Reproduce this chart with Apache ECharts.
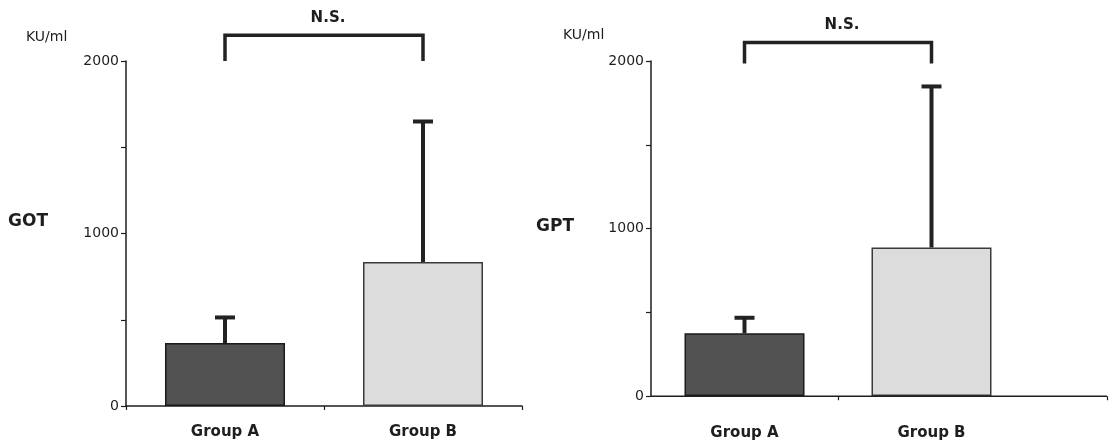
<!DOCTYPE html>
<html>
<head>
<meta charset="utf-8">
<script src="https://cdn.jsdelivr.net/npm/echarts@6/dist/echarts.min.js"></script>
<style>
html,body{margin:0;padding:0;background:#fff;}
#c{width:1112px;height:444px;}
</style>
</head>
<body>
<div id="c"></div>
<script>
// ---- data ----
const categories = ['Group A', 'Group B'];
const gotMean = [365, 835];
const gotSD = [157, 823];
const gptMean = [375, 887];
const gptSD = [101, 970];
const yTicks = [0, 1000, 2000];
const unitLabel = 'KU/ml';
const gotLabel = 'GOT';
const gptLabel = 'GPT';
const sigLabel = 'N.S.';
const gotBracket = [2000, 2150]; // [leg bottom, top]
const gptBracket = [1985, 2110];

const FONT = '"DejaVu Sans", sans-serif';
const INK = '#1e1e1e';

function yAxis(gridIndex) {
  return {
    type: 'value', gridIndex, min: 0, max: 2000, interval: 500,
    axisLine: { show: true, lineStyle: { color: INK, width: 1.5 } },
    axisTick: { show: true, length: 5, lineStyle: { color: INK, width: 1.2 } },
    splitLine: { show: false },
    axisLabel: {
      color: INK, fontFamily: FONT, fontSize: 14, margin: 7,
      formatter: v => (yTicks.indexOf(v) >= 0 ? String(v) : '')
    }
  };
}
function xAxis(gridIndex, margin, showLine) {
  return {
    type: 'category', gridIndex, data: categories,
    axisLine: { show: showLine, lineStyle: { color: INK, width: 1.5 } },
    axisTick: { show: showLine, length: 4, lineStyle: { color: INK, width: 1.2 } },
    axisLabel: { color: INK, fontFamily: FONT, fontSize: 15, fontWeight: 'bold', margin: margin }
  };
}
function barSeries(idx, data) {
  return {
    type: 'bar', xAxisIndex: idx, yAxisIndex: idx, data: data.map((v, i) => ({
      value: v,
      itemStyle: {
        color: i === 0 ? '#525252' : '#dcdcdc',
        borderColor: i === 0 ? '#1a1a1a' : '#3a3a3a',
        borderWidth: 1.5
      }
    })),
    barWidth: 120, z: 2
  };
}
function errSeries(idx, mean, sd) {
  return {
    type: 'custom', xAxisIndex: idx, yAxisIndex: idx, z: 3,
    data: mean.map((m, i) => [i, m, m + sd[i]]),
    renderItem: (params, api) => {
      const b = api.coord([api.value(0), api.value(1)]);
      const t = api.coord([api.value(0), api.value(2)]);
      return {
        type: 'group', children: [
          { type: 'line', shape: { x1: b[0], y1: b[1], x2: t[0], y2: t[1] }, style: { stroke: '#222', lineWidth: 4 } },
          { type: 'line', shape: { x1: t[0] - 10, y1: t[1] + 1.5, x2: t[0] + 10, y2: t[1] + 1.5 }, style: { stroke: '#222', lineWidth: 4 } }
        ]
      };
    }
  };
}
function bracketSeries(idx, br) {
  return {
    type: 'custom', xAxisIndex: idx, yAxisIndex: idx, z: 4, clip: false,
    data: [[0, 1, br[0], br[1]]],
    renderItem: (params, api) => {
      const a0 = api.coord([api.value(0), api.value(2)]);
      const a1 = api.coord([api.value(0), api.value(3)]);
      const b1 = api.coord([api.value(1), api.value(3)]);
      const b0 = api.coord([api.value(1), api.value(2)]);
      return {
        type: 'group', children: [
          { type: 'polyline', shape: { points: [a0, a1, b1, b0] }, style: { stroke: '#222', lineWidth: 3.5, fill: null, lineJoin: 'miter' } },
          { type: 'text', x: (a1[0] + b1[0]) / 2 + 4, y: a1[1] - 10,
            style: { text: sigLabel, fill: INK, font: 'bold 15px ' + FONT, align: 'center', verticalAlign: 'bottom' } }
        ]
      };
    }
  };
}

const texts = [
  { type: 'text', left: 26, top: 30, style: { text: unitLabel, fill: INK, font: '14px ' + FONT } },
  { type: 'text', left: 8, top: 213, style: { text: gotLabel, fill: INK, font: 'bold 17px ' + FONT } },
  { type: 'text', left: 563, top: 28, style: { text: unitLabel, fill: INK, font: '14px ' + FONT } },
  { type: 'text', left: 536, top: 218, style: { text: gptLabel, fill: INK, font: 'bold 17px ' + FONT } }
];

const chart = echarts.init(document.getElementById('c'), null, { renderer: 'canvas' });
chart.setOption({
  animation: false,
  backgroundColor: '#fff',
  grid: [
    { left: 126, width: 396, top: 61, bottom: 38 },
    { left: 651, width: 374, top: 61, bottom: 48 }
  ],
  xAxis: [xAxis(0, 19, true), xAxis(1, 30, false)],
  yAxis: [yAxis(0), yAxis(1)],
  series: [
    barSeries(0, gotMean), errSeries(0, gotMean, gotSD), bracketSeries(0, gotBracket),
    barSeries(1, gptMean), errSeries(1, gptMean, gptSD), bracketSeries(1, gptBracket)
  ],
  graphic: texts
});
// right chart: baseline runs past the last category, ticks at the category divider and the far end
const y0 = Math.round(chart.convertToPixel({ yAxisIndex: 1 }, 0)) + 0.25;
const cA = chart.convertToPixel({ xAxisIndex: 1 }, 0);
const cB = chart.convertToPixel({ xAxisIndex: 1 }, 1);
const x0 = 2 * cA - cB + (cB - cA) / 2;
const mid = Math.round((cA + cB) / 2) + 0.5;
chart.setOption({
  graphic: texts.concat([
    { type: 'line', z: 5, shape: { x1: x0, y1: y0, x2: 1107, y2: y0 }, style: { stroke: INK, lineWidth: 1.5 } },
    { type: 'line', z: 5, shape: { x1: mid, y1: y0, x2: mid, y2: y0 + 4 }, style: { stroke: INK, lineWidth: 1.2 } },
    { type: 'line', z: 5, shape: { x1: 1107.5, y1: y0, x2: 1107.5, y2: y0 + 4 }, style: { stroke: INK, lineWidth: 1.2 } }
  ])
}, { replaceMerge: ['graphic'] });
</script>
</body>
</html>
